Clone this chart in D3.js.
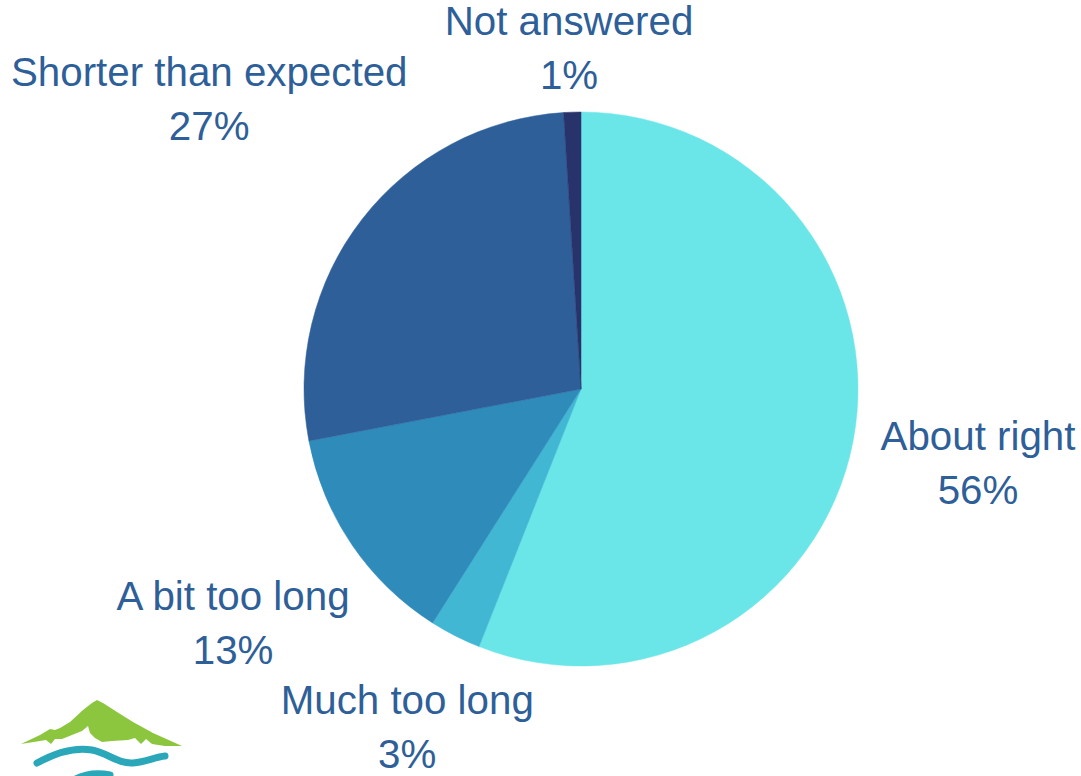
<!DOCTYPE html>
<html>
<head>
<meta charset="utf-8">
<script src="https://cdn.jsdelivr.net/npm/d3@7"></script>
<style>
  html, body { margin: 0; padding: 0; background: #ffffff; }
  svg { display: block; }
</style>
</head>
<body>
<svg id="chart" width="1081" height="776"></svg>
<script>
// ---- data ----
const categories = ["About right", "Much too long", "A bit too long", "Shorter than expected", "Not answered"];
const values = [56, 3, 13, 27, 1];
const colors = ["#6BE6E8", "#42B7D4", "#2E8BBA", "#2E5F99", "#29336B"];

// ---- layout ----
const W = 1081, H = 776;
const cx = 581, cy = 389, R = 277;
// label placement: distance factor (x R) and angle tweak (deg) from slice mid-angle
const labelDist = [1.468, 1.416, 1.543, 1.672, 1.183];
const labelTweak = [1.7, -0.7, -1.3, -1.2, -0.3];
const fontSize = 40.3, lineGap = 54;
const textColor = "#2E5F98";

const svg = d3.select("#chart");
const g = svg.append("g").attr("transform", `translate(${cx},${cy})`);

const pie = d3.pie().sort(null).value(d => d.v);
const data = categories.map((c, i) => ({ c, v: values[i], i }));
const arcs = pie(data);
const arc = d3.arc().innerRadius(0).outerRadius(R);

g.selectAll("path.slice")
  .data(arcs)
  .enter().append("path")
  .attr("class", "slice")
  .attr("d", arc)
  .attr("fill", d => colors[d.data.i])
  .attr("stroke", d => colors[d.data.i])
  .attr("stroke-width", 0.5);

const fmt = d3.format(".0%");
const total = d3.sum(values);

g.selectAll("text.lbl")
  .data(arcs)
  .enter().append("text")
  .attr("class", "lbl")
  .attr("font-family", "'Liberation Sans', Arial, sans-serif")
  .attr("font-size", fontSize)
  .attr("fill", textColor)
  .attr("text-anchor", "middle")
  .each(function(d) {
    const i = d.data.i;
    const a = (d.startAngle + d.endAngle) / 2 + labelTweak[i] * Math.PI / 180;
    const r = R * labelDist[i];
    const x = r * Math.sin(a), y = -r * Math.cos(a);
    const t = d3.select(this);
    t.append("tspan").attr("x", x).attr("y", y - lineGap / 2).text(d.data.c);
    t.append("tspan").attr("x", x).attr("y", y + lineGap / 2).text(fmt(d.data.v / total));
  });

// ---- logo (bottom-left) ----
const logo = svg.append("g").attr("class", "logo");
logo.append("path")
  .attr("d", "M21,744 L40,735 L50,729 L55,730 L60,728 L70,722 L83,710 L92,703 L97,700 L103,703 L117,712 L133,722 L153,733 L182,746 L165,746 L152,744 L146,739 L141,744 L135,738 L128,740 L112,741 L102,742 L95,738 L90,733 L88,726 L82,731 L72,735 L62,739 L55,739 L51,744 L46,740 Z")
  .attr("fill", "#8CC63F");
// waves
logo.append("path")
  .attr("d", "M37,763 C55,753 75,747 92,750 C108,753 118,764 133,763 C146,762 155,757 165,756")
  .attr("fill", "none").attr("stroke", "#2AA8B9").attr("stroke-width", 7).attr("stroke-linecap", "round");
logo.append("path")
  .attr("d", "M72,781 C82,775 95,772 110,775")
  .attr("fill", "none").attr("stroke", "#2AA8B9").attr("stroke-width", 7).attr("stroke-linecap", "round");
</script>
</body>
</html>
